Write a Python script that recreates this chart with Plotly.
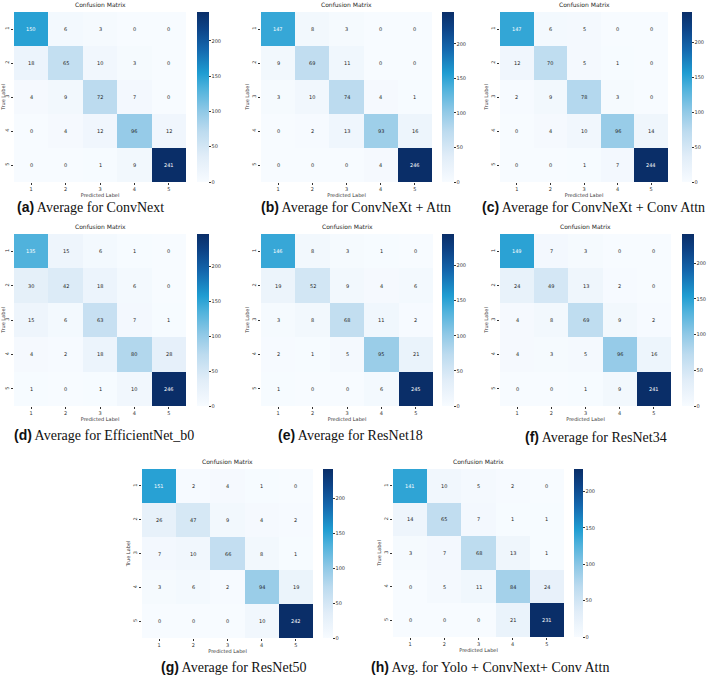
import plotly.graph_objects as go

labels = ["1", "2", "3", "4", "5"]

cm_a = [[150, 6, 3, 0, 0], [18, 65, 10, 3, 0], [4, 9, 72, 7, 0], [0, 4, 12, 96, 12], [0, 0, 1, 9, 241]]
cm_b = [[147, 8, 3, 0, 0], [9, 69, 11, 0, 0], [3, 10, 74, 4, 1], [0, 2, 13, 93, 16], [0, 0, 0, 4, 246]]
cm_c = [[147, 6, 5, 0, 0], [12, 70, 5, 1, 0], [2, 9, 78, 3, 0], [0, 4, 10, 96, 14], [0, 0, 1, 7, 244]]
cm_d = [[135, 15, 6, 1, 0], [30, 42, 18, 6, 0], [15, 6, 63, 7, 1], [4, 2, 18, 80, 28], [1, 0, 1, 10, 246]]
cm_e = [[146, 8, 3, 1, 0], [19, 52, 9, 4, 6], [3, 8, 68, 11, 2], [2, 1, 5, 95, 21], [1, 0, 0, 6, 245]]
cm_f = [[149, 7, 3, 0, 0], [24, 49, 13, 2, 0], [4, 8, 69, 9, 2], [4, 3, 5, 96, 16], [0, 0, 1, 9, 241]]
cm_g = [[151, 2, 4, 1, 0], [26, 47, 9, 4, 2], [7, 10, 66, 8, 1], [3, 6, 2, 94, 19], [0, 0, 0, 10, 242]]
cm_h = [[141, 10, 5, 2, 0], [14, 65, 7, 1, 1], [3, 7, 68, 13, 1], [0, 5, 11, 84, 24], [0, 0, 0, 21, 231]]

matrices = [cm_a, cm_b, cm_c, cm_d, cm_e, cm_f, cm_g, cm_h]
cap_tags = ["(a)", "(b)", "(c)", "(d)", "(e)", "(f)", "(g)", "(h)"]
cap_texts = [
    "Average for ConvNext",
    "Average for ConvNeXt + Attn",
    "Average for ConvNeXt + Conv Attn",
    "Average for EfficientNet_b0",
    "Average for ResNet18",
    "Average for ResNet34",
    "Average for ResNet50",
    "Avg. for Yolo + ConvNext+ Conv Attn",
]
cbar_ticks = [0, 50, 100, 150, 200]
title_text = "Confusion Matrix"
xlab = "Predicted Label"
ylab = "True Label"

W, H = 709, 680

# layout geometry in pixels (heatmap x-range, y-range, colorbar x-range, caption centre)
panels = [
    dict(hx=(14, 186), hy=(12, 182), cb=(197, 209), cap=(90, 207)),
    dict(hx=(261, 432), hy=(12, 182), cb=(442, 454), cap=(356, 207)),
    dict(hx=(500, 668), hy=(12, 182), cb=(682, 692), cap=(593, 207)),
    dict(hx=(14, 186), hy=(234, 406), cb=(197, 209), cap=(104, 435)),
    dict(hx=(261, 433), hy=(234, 406), cb=(442, 454), cap=(350, 435)),
    dict(hx=(500, 671), hy=(234, 406), cb=(682, 694), cap=(596, 437)),
    dict(hx=(142, 313), hy=(469, 638), cb=(323, 333), cap=(234, 667)),
    dict(hx=(393, 564), hy=(469, 637), cb=(574, 583), cap=(490, 667)),
]

colorscale = [
    [0.0, "#f7fbff"],
    [0.15, "#e1edf8"],
    [0.3, "#bcdbef"],
    [0.42, "#8ec8e6"],
    [0.55, "#4fb2dc"],
    [0.64, "#1f9dd2"],
    [0.78, "#1468ae"],
    [0.9, "#0d4488"],
    [1.0, "#0a2e68"],
]


def pxx(x):
    return x / W


def pyy(y):
    return 1 - y / H


fig = go.Figure()
annotations = []
small = dict(family="DejaVu Sans", size=5, color="#333333")
idx = list(range(len(labels)))

for i, (cm, p) in enumerate(zip(matrices, panels)):
    n = i + 1
    xa = "x" if n == 1 else f"x{n}"
    ya = "y" if n == 1 else f"y{n}"
    zmax = max(max(r) for r in cm)
    fig.add_trace(go.Heatmap(
        z=cm, x=idx, y=idx, xaxis=xa, yaxis=ya,
        zmin=0, zmax=zmax, colorscale=colorscale, hoverinfo="skip",
        colorbar=dict(
            x=pxx(p["cb"][0]), xanchor="left",
            y=pyy(p["hy"][1]), yanchor="bottom",
            len=(p["hy"][1] - p["hy"][0]) / H, lenmode="fraction",
            thickness=p["cb"][1] - p["cb"][0], thicknessmode="pixels",
            outlinewidth=0, xpad=0, ypad=0,
            tickvals=cbar_ticks, ticks="outside", ticklen=2, tickwidth=0.6,
            tickcolor="#333", tickfont=small,
        ),
    ))
    lay_x = "xaxis" if n == 1 else f"xaxis{n}"
    lay_y = "yaxis" if n == 1 else f"yaxis{n}"
    fig.update_layout(**{
        lay_x: dict(
            domain=[pxx(p["hx"][0]), pxx(p["hx"][1])], anchor=ya,
            range=[-0.5, 4.5], tickmode="array", tickvals=idx, ticktext=labels,
            showgrid=False, zeroline=False, showline=False,
            ticks="outside", ticklen=2, tickwidth=0.6, tickcolor="#333",
            tickfont=small,
            title=dict(text=xlab, font=small, standoff=1),
        ),
        lay_y: dict(
            domain=[pyy(p["hy"][1]), pyy(p["hy"][0])], anchor=xa,
            range=[4.5, -0.5], tickmode="array", tickvals=idx, ticktext=labels,
            showgrid=False, zeroline=False, showline=False,
            ticks="outside", ticklen=2, tickwidth=0.6, tickcolor="#333",
            tickfont=small, tickangle=-90,
            title=dict(text=ylab, font=small, standoff=1),
        ),
    })
    for r in range(5):
        for c in range(5):
            v = cm[r][c]
            annotations.append(dict(
                x=idx[c], y=idx[r], xref=xa, yref=ya, text=str(v),
                showarrow=False,
                font=dict(family="DejaVu Sans", size=5,
                          color="white" if v > 0.5 * zmax else "#262626"),
            ))
    annotations.append(dict(
        x=pxx((p["hx"][0] + p["hx"][1]) / 2), y=pyy(p["hy"][0] - 2),
        xref="paper", yref="paper", xanchor="center", yanchor="bottom",
        text=title_text, showarrow=False,
        font=dict(family="DejaVu Sans", size=6, color="#262626"),
    ))
    annotations.append(dict(
        x=pxx(p["cap"][0]), y=pyy(p["cap"][1]),
        xref="paper", yref="paper", xanchor="center", yanchor="middle",
        text=f"<span style='font-family:Liberation Sans'><b>{cap_tags[i]}</b></span> {cap_texts[i]}",
        showarrow=False,
        font=dict(family="Liberation Serif", size=14, color="#111111"),
    ))

fig.update_layout(
    width=W, height=H, margin=dict(l=0, r=0, t=0, b=0),
    paper_bgcolor="white", plot_bgcolor="white",
    annotations=annotations, showlegend=False,
)

fig.write_html("out.html")
